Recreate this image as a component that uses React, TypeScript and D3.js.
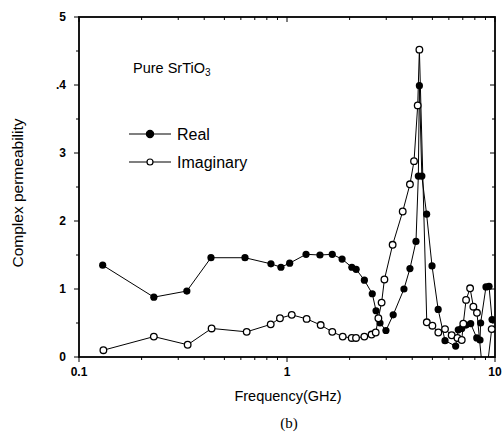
import React, { useEffect, useRef } from "react";
import * as d3 from "d3";

const realFreq = [0.13, 0.229, 0.33, 0.431, 0.628, 0.837, 0.935, 1.03, 1.235, 1.44, 1.65, 1.84, 2.05, 2.15, 2.355, 2.57, 2.68, 2.8, 2.99, 3.24, 3.65, 3.9, 4.17, 4.28, 4.33, 4.45, 4.69, 4.98, 5.33, 5.75, 6.47, 6.66, 6.92, 7.26, 7.64, 8.17, 8.47, 8.53, 9.05, 9.36, 9.68];
const realVal = [1.35, 0.88, 0.97, 1.46, 1.46, 1.37, 1.32, 1.38, 1.51, 1.5, 1.51, 1.44, 1.32, 1.29, 1.13, 0.93, 0.68, 0.5, 0.39, 0.62, 1.0, 1.3, 1.7, 2.66, 3.99, 2.66, 2.1, 1.34, 0.7, 0.24, 0.16, 0.4, 0.42, 0.47, 0.49, 0.28, 0.25, 0.5, 1.03, 1.04, 0.55];

const imagFreq = [0.131, 0.229, 0.333, 0.434, 0.64, 0.835, 0.925, 1.054, 1.243, 1.452, 1.651, 1.853, 2.047, 2.147, 2.354, 2.55, 2.67, 2.75, 2.85, 2.94, 3.22, 3.6, 3.9, 4.08, 4.25, 4.33, 4.7, 5.0, 5.34, 5.75, 6.19, 6.6, 6.92, 7.04, 7.26, 7.59, 7.87, 8.19, 8.9, 9.64];
const imagVal = [0.1, 0.3, 0.18, 0.42, 0.37, 0.48, 0.57, 0.62, 0.56, 0.47, 0.37, 0.3, 0.28, 0.28, 0.3, 0.33, 0.36, 0.57, 0.8, 1.14, 1.65, 2.14, 2.54, 2.88, 3.7, 4.52, 0.51, 0.46, 0.36, 0.41, 0.32, 0.28, 0.25, 0.49, 0.84, 1.01, 0.74, 0.65, -0.5, 0.41];

const yTicks = [0, 1, 2, 3, 4, 5];
const yTickLabels = ["0", "1", "2", "3", ".4", "5"];
const xTicks = [0.1, 1, 10];
const xTickLabels = ["0.1", "1", "10"];

const W = 503, H = 435;
const L = 79, R = 495, T = 17, B = 357;

export default function App() {
  const ref = useRef<SVGSVGElement>(null);
  useEffect(() => {
    const svg = d3.select(ref.current);
    svg.selectAll("*").remove();
    const x = d3.scaleLog().domain([0.1, 10]).range([L, R]);
    const y = d3.scaleLinear().domain([0, 5]).range([B, T]);
    const font = "'Liberation Sans', Arial, sans-serif";

    const clip = svg.append("clipPath").attr("id", "pc");
    clip.append("rect").attr("x", L).attr("y", T).attr("width", R - L).attr("height", B - T);

    // frame
    svg.append("rect").attr("x", L).attr("y", T).attr("width", R - L).attr("height", B - T)
      .attr("fill", "none").attr("stroke", "#000").attr("stroke-width", 1.8);

    const minors: number[] = [];
    for (const dec of [0.1, 1]) for (let k = 2; k <= 9; k++) minors.push(dec * k);
    const g = svg.append("g").attr("stroke", "#000").attr("stroke-width", 1);
    minors.forEach((m) => {
      g.append("line").attr("x1", x(m)).attr("x2", x(m)).attr("y1", B).attr("y2", B + 3);
      g.append("line").attr("x1", x(m)).attr("x2", x(m)).attr("y1", T).attr("y2", T + 3);
    });
    xTicks.forEach((t) => {
      g.append("line").attr("x1", x(t)).attr("x2", x(t)).attr("y1", B).attr("y2", B + 5);
      g.append("line").attr("x1", x(t)).attr("x2", x(t)).attr("y1", T).attr("y2", T + 5);
    });
    for (let v = 0; v <= 5; v += 0.5) {
      const major = Number.isInteger(v);
      g.append("line").attr("x1", L - (major ? 5 : 3)).attr("x2", L).attr("y1", y(v)).attr("y2", y(v));
      g.append("line").attr("x1", R - (major ? 5 : 3)).attr("x2", R).attr("y1", y(v)).attr("y2", y(v));
    }

    xTicks.forEach((t, i) => {
      svg.append("text").attr("x", x(t)).attr("y", B + 19).attr("text-anchor", "middle")
        .attr("font-family", font).attr("font-size", 12).attr("font-weight", "bold").text(xTickLabels[i]);
    });
    yTicks.forEach((t, i) => {
      svg.append("text").attr("x", L - 13).attr("y", y(t) + 4).attr("text-anchor", "end")
        .attr("font-family", font).attr("font-size", 12).attr("font-weight", "bold").text(yTickLabels[i]);
    });

    svg.append("text").attr("x", 288).attr("y", 401).attr("text-anchor", "middle")
      .attr("font-family", font).attr("font-size", 14.5).text("Frequency(GHz)");
    svg.append("text").attr("x", 289).attr("y", 428).attr("text-anchor", "middle")
      .attr("font-family", "'Liberation Serif', 'Times New Roman', serif").attr("font-size", 15).text("(b)");
    svg.append("text").attr("transform", `translate(23,${(T + B) / 2 + 6}) rotate(-90)`).attr("text-anchor", "middle")
      .attr("font-family", font).attr("font-size", 15.5).text("Complex permeability");

    const pure = svg.append("text").attr("x", 133).attr("y", 73).attr("font-family", font).attr("font-size", 14.5);
    pure.append("tspan").text("Pure SrTiO");
    pure.append("tspan").attr("font-size", 10).attr("dy", 3).text("3");

    const line = d3.line<[number, number]>().x((d) => x(d[0])).y((d) => y(d[1]));
    const plot = svg.append("g").attr("clip-path", "url(#pc)");
    const realData: [number, number][] = realFreq.map((f, i) => [f, realVal[i]]);
    const imagData: [number, number][] = imagFreq.map((f, i) => [f, imagVal[i]]);
    plot.append("path").datum(realData).attr("d", line).attr("fill", "none").attr("stroke", "#000").attr("stroke-width", 1);
    plot.append("path").datum(imagData).attr("d", line).attr("fill", "none").attr("stroke", "#000").attr("stroke-width", 1);
    plot.selectAll("circle.r").data(realData).enter().append("circle")
      .attr("cx", (d) => x(d[0])).attr("cy", (d) => y(d[1])).attr("r", 3.6).attr("fill", "#000");
    plot.selectAll("circle.i").data(imagData).enter().append("circle")
      .attr("cx", (d) => x(d[0])).attr("cy", (d) => y(d[1])).attr("r", 3.3).attr("fill", "#fff")
      .attr("stroke", "#000").attr("stroke-width", 1.3);

    const leg = [
      { yy: 134, label: "Real", filled: true },
      { yy: 162, label: "Imaginary", filled: false },
    ];
    leg.forEach((l) => {
      svg.append("line").attr("x1", 129).attr("x2", 171).attr("y1", l.yy).attr("y2", l.yy).attr("stroke", "#000").attr("stroke-width", 1.2);
      svg.append("circle").attr("cx", 150).attr("cy", l.yy).attr("r", l.filled ? 3.6 : 3)
        .attr("fill", l.filled ? "#000" : "#fff").attr("stroke", "#000").attr("stroke-width", 1.2);
      svg.append("text").attr("x", 177).attr("y", l.yy + 6).attr("font-family", font).attr("font-size", 16).text(l.label);
    });
  }, []);
  return (
    <svg ref={ref} width={W} height={H} style={{ position: "absolute", left: 0, top: 0, background: "#fff" }} />
  );
}
